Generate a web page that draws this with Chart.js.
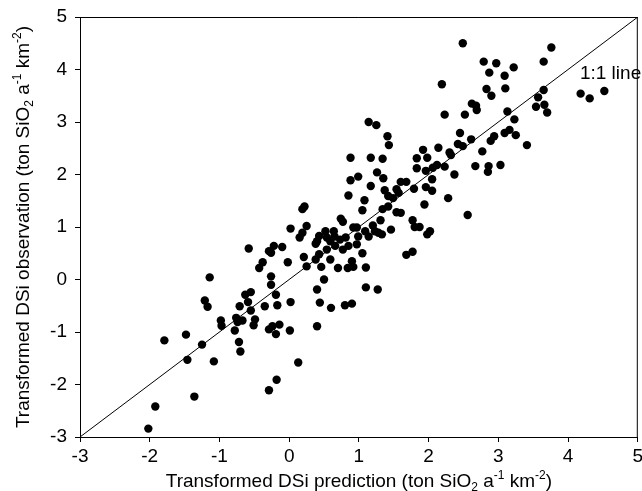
<!DOCTYPE html>
<html>
<head>
<meta charset="utf-8">
<script src="https://cdn.jsdelivr.net/npm/chart.js@4/dist/chart.umd.min.js"></script>
<style>
    html, body { margin: 0; padding: 0; background: #fff; }
</style>
</head>
<body>
<canvas id="chart" width="642" height="491"></canvas>
<script>
// Transformed DSi prediction (x) vs observation (y)
const predX = [
    2.49, 2.19, 2.23, 2.52, 1.14, 1.25, 1.41, 1.43, 2.45, 2.42, 2.49, 2.14, 1.92, 2.30, 2.32, 0.88, 1.17, 1.34, 1.83, 1.98,
    3.76, 2.79, 2.97, 3.22, 3.65, 2.87, 3.09, 2.83, 2.90, 3.10, 3.65, 3.57, 3.54, 3.66, 3.70, 4.18, 4.31, 4.52, 2.62, 2.68,
    2.69, 3.13, 3.23, 2.61, 2.94, 2.89, 3.09, 3.16, 3.25, 3.41, 2.77, 2.67, 2.86, 2.85, 3.03, 2.37, 2.28, 2.56,
    1.83, 1.96, 2.06, 2.12, 2.23, 1.26, 1.35, 0.88, 0.99, 1.17, 1.60, 1.68, 2.05, 1.96, 2.05, 1.79, 1.37, 1.54, 1.57, 1.42,
    1.49, 0.85, 1.08, 1.94, 0.19, 0.22, 1.05, 1.34, 1.42, 1.54, 1.60, 0.74, 0.77, 1.31, 1.77, 1.80, 1.87, 2.02, 1.98, 0.02,
    0.25, 0.19, 0.15, 0.52, 0.64, 0.92, 0.97, 1.09, 1.20, 1.23, 1.28, 1.33, 1.46, 0.43, 0.40, 0.38, 0.54, 0.59, 0.65, 0.73,
    0.81, 0.99, 1.14, 0.66, 0.77, 0.85, 0.97, -0.22, -0.10, -0.29, -0.26, 0.54, 1.05, 1.68, 1.77, -0.02, 0.21, 0.43, 0.38, 0.59,
    0.90, 0.25, 0.46, 0.70, 0.84, 0.92, 1.10, -0.26, -0.26, 0.50, -0.19, 0.40, 1.10, 1.27,
    -0.17, 0.02, 0.44, 0.60, 0.80, 0.90, -0.24, -0.14, -0.19, -0.29, 0.01, 0.40, 0.13, -0.18, -0.29,
    -0.63, -0.55, -1.21, -1.17, -0.71, -0.59, -0.55, -0.35, -0.98, -0.97, -0.76, -0.74, -0.67, -0.49, -0.51, -0.78, -0.72, -0.70,
    -1.79, -1.48, -1.25, -1.46, -1.08, -1.36, -1.92, -2.02,
    -0.58, -0.38, -0.43, -1.14
];
const obsY = [
    4.50, 3.72, 3.14, 3.14, 3.00, 2.94, 2.73, 2.56, 2.79, 2.58, 2.54, 2.51, 2.47, 2.42, 2.37, 2.32, 2.32, 2.30, 2.31, 2.32,
    4.42, 4.15, 4.12, 4.04, 4.15, 3.94, 3.88, 3.63, 3.50, 3.64, 3.61, 3.47, 3.29, 3.33, 3.18, 3.54, 3.45, 3.59, 3.35, 3.31,
    3.23, 3.20, 3.05, 2.67, 2.73, 2.64, 2.79, 2.85, 2.75, 2.56, 2.44, 2.16, 2.16, 2.05, 2.18, 2.00, 1.55, 1.23,
    2.12, 2.07, 2.13, 2.18, 2.15, 2.04, 1.93, 1.89, 1.96, 1.78, 1.86, 1.86, 1.91, 1.76, 1.69, 1.73, 1.70, 1.72, 1.65, 1.59,
    1.55, 1.60, 1.51, 1.43, 1.34, 1.39, 1.32, 1.34, 1.39, 1.28, 1.27, 1.16, 1.10, 1.13, 1.13, 1.00, 1.00, 0.92, 0.86, 0.97,
    1.02, 0.89, 0.80, 0.92, 0.92, 0.99, 0.99, 0.92, 1.03, 0.92, 0.89, 0.86, 0.95, 0.83, 0.73, 0.68, 0.80, 0.73, 0.82, 0.76,
    0.80, 0.82, 0.82, 0.64, 0.57, 0.64, 0.67, 0.64, 0.62, 0.54, 0.51, 0.57, 0.50, 0.47, 0.53, 0.33, 0.43, 0.48, 0.38, 0.38,
    0.35, 0.25, 0.24, 0.22, 0.22, 0.24, 0.23, 0.06, -0.10, 0.00, -0.29, -0.19, -0.15, -0.19,
    -0.49, -0.43, -0.44, -0.54, -0.49, -0.46, -0.89, -0.86, -1.04, -0.95, -0.97, -0.89, -1.58, -1.91, -2.11,
    -0.29, -0.24, -0.40, -0.52, -0.51, -0.43, -0.59, -0.51, -0.78, -0.88, -0.73, -0.81, -0.78, -0.76, -0.87, -0.97, -1.19, -1.37,
    -1.16, -1.05, -1.24, -1.53, -1.56, -2.23, -2.42, -2.84,
    0.59, 0.33, 0.22, 0.04
];
const axisMin = -3;
const axisMax = 5;
const oneToOne = [-3, 5];
const lineLabel = '1:1 line';
const lineLabelAt = [4.17, 3.92];

const FONT = "'Liberation Sans', Arial, Helvetica, sans-serif";
const FS = 19;

// title pieces: [text, 'n' | 'sub' | 'sup']
const unitParts = [['(ton SiO', 'n'], ['2', 'sub'], [' a', 'n'], ['-1', 'sup'], [' km', 'n'], ['-2', 'sup'], [')', 'n']];
const xTitle = [['Transformed DSi prediction ', 'n']].concat(unitParts);
const yTitle = [['Transformed DSi observation ', 'n']].concat(unitParts);

function drawRich(ctx, parts, cx, cy, rotate) {
    const small = Math.round(FS * 0.62);
    let total = 0;
    parts.forEach(p => {
        ctx.font = (p[1] === 'n' ? FS : small) + 'px ' + FONT;
        total += ctx.measureText(p[0]).width;
    });
    ctx.save();
    ctx.translate(cx, cy);
    if (rotate) ctx.rotate(-Math.PI / 2);
    ctx.fillStyle = '#000';
    ctx.textBaseline = 'alphabetic';
    ctx.textAlign = 'left';
    let x = -total / 2;
    const base = FS * 0.36;
    parts.forEach(p => {
        let dy = 0;
        if (p[1] === 'sub') dy = FS * 0.22;
        if (p[1] === 'sup') dy = -FS * 0.42;
        ctx.font = (p[1] === 'n' ? FS : small) + 'px ' + FONT;
        ctx.fillText(p[0], x, base + dy);
        x += ctx.measureText(p[0]).width;
    });
    ctx.restore();
}

const extras = {
    id: 'extras',
    afterDraw(chart) {
        const ctx = chart.ctx;
        const a = chart.chartArea;
        const xs = chart.scales.x, ys = chart.scales.y;
        ctx.save();
        ctx.strokeStyle = '#000';
        ctx.lineWidth = 1;
        ctx.beginPath();
        ctx.moveTo(a.left, a.top + 0.5);
        ctx.lineTo(a.right, a.top + 0.5);
        ctx.moveTo(a.right - 0.5, a.top);
        ctx.lineTo(a.right - 0.5, a.bottom);
        ctx.stroke();

        ctx.fillStyle = '#000';
        ctx.font = FS + 'px ' + FONT;
        ctx.textAlign = 'left';
        ctx.textBaseline = 'middle';
        ctx.fillText(lineLabel, xs.getPixelForValue(lineLabelAt[0]), ys.getPixelForValue(lineLabelAt[1]));
        ctx.restore();

        drawRich(ctx, xTitle, (a.left + a.right) / 2, 480, false);
        drawRich(ctx, yTitle, 22, (a.top + a.bottom) / 2, true);
    }
};

const points = predX.map((x, i) => ({ x: x, y: obsY[i] }));

new Chart(document.getElementById('chart').getContext('2d'), {
    data: {
        datasets: [{
            type: 'line',
            data: oneToOne.map(v => ({ x: v, y: v })),
            borderColor: '#000',
            borderWidth: 1,
            pointRadius: 0,
            fill: false
        }, {
            type: 'scatter',
            data: points,
            backgroundColor: '#000',
            borderWidth: 0,
            pointRadius: 4.2
        }]
    },
    options: {
        responsive: false,
        animation: false,
        devicePixelRatio: 1,
        layout: { padding: { top: 17, right: 1, left: 0, bottom: 0 } },
        plugins: { legend: { display: false }, tooltip: { enabled: false } },
        scales: {
            x: {
                type: 'linear',
                min: axisMin,
                max: axisMax,
                ticks: { stepSize: 1, color: '#000', font: { family: FONT, size: FS }, padding: 3, maxRotation: 0 },
                grid: { drawOnChartArea: false, tickLength: 5, color: '#000' },
                border: { color: '#000', width: 1 },
                afterFit(s) { s.height = 54; s.paddingRight = 0; s.paddingLeft = 0; }
            },
            y: {
                type: 'linear',
                min: axisMin,
                max: axisMax,
                ticks: { stepSize: 1, color: '#000', font: { family: FONT, size: FS }, padding: 8 },
                grid: { drawOnChartArea: false, tickLength: 5, color: '#000' },
                border: { color: '#000', width: 1 },
                afterFit(s) { s.width = 80; s.paddingTop = 0; s.paddingBottom = 0; }
            }
        }
    },
    plugins: [extras]
});
</script>
</body>
</html>
